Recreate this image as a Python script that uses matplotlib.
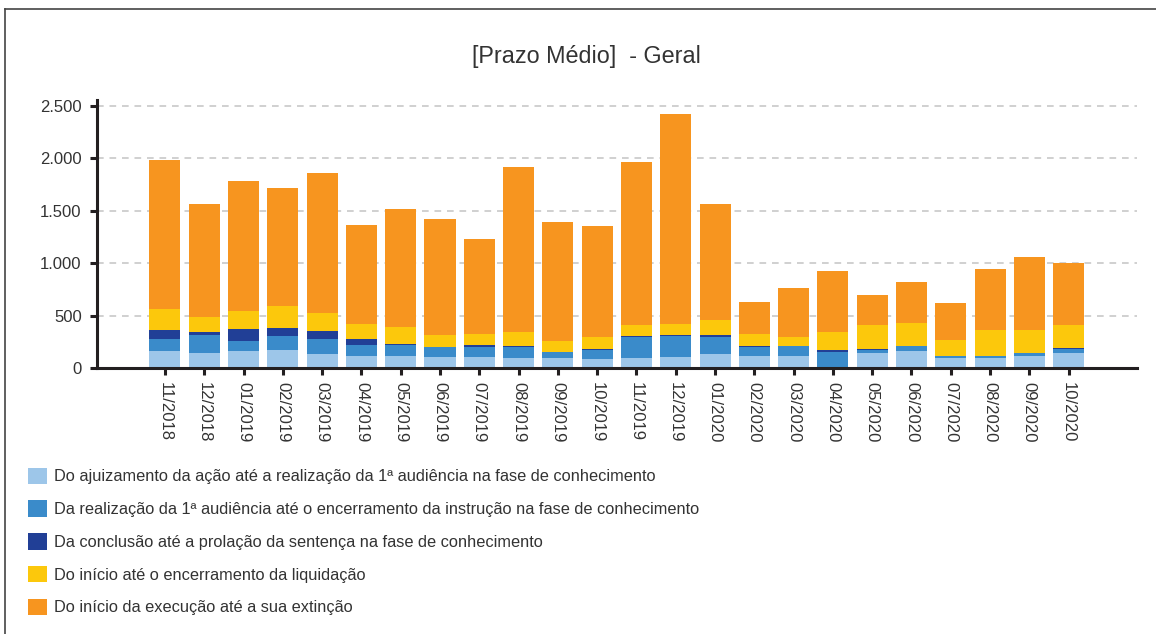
import matplotlib
matplotlib.use("Agg")
import matplotlib.pyplot as plt
from matplotlib.lines import Line2D
from matplotlib.patches import Patch
from matplotlib.ticker import FuncFormatter

plt.rcParams['font.family'] = ['Liberation Sans', 'DejaVu Sans']

months = ["11/2018", "12/2018", "01/2019", "02/2019", "03/2019", "04/2019",
          "05/2019", "06/2019", "07/2019", "08/2019", "09/2019", "10/2019",
          "11/2019", "12/2019", "01/2020", "02/2020", "03/2020", "04/2020",
          "05/2020", "06/2020", "07/2020", "08/2020", "09/2020", "10/2020"]

ajuizamento = [159, 140, 159, 169, 130, 111, 111, 102, 102, 92, 92, 83,
               92, 102, 130, 111, 111, 6, 140, 159, 92, 92, 111, 140]
instrucao = [115, 172, 95, 133, 144, 105, 105, 95, 95, 105, 58, 86,
             200, 200, 162, 86, 96, 144, 29, 48, 19, 19, 29, 38]
sentenca = [85, 28, 115, 76, 76, 57, 10, 0, 19, 10, 0, 9,
            10, 10, 20, 10, 0, 19, 9, 0, 0, 0, 0, 10]
liquidacao = [201, 143, 172, 210, 172, 144, 162, 115, 105, 133, 104, 115,
              105, 105, 143, 114, 86, 171, 229, 219, 153, 248, 219, 219]
execucao = [1426, 1083, 1244, 1130, 1340, 948, 1130, 1111, 911, 1579, 1140, 1063,
            1560, 2008, 1111, 306, 467, 587, 286, 391, 353, 587, 701, 596]

labels = ["Do ajuizamento da ação até a realização da 1ª audiência na fase de conhecimento",
          "Da realização da 1ª audiência até o encerramento da instrução na fase de conhecimento",
          "Da conclusão até a prolação da sentença na fase de conhecimento",
          "Do início até o encerramento da liquidação",
          "Do início da execução até a sua extinção"]
colors = ["#9dc6e9", "#3a8bca", "#213f96", "#fcc80c", "#f7951f"]

series = [ajuizamento, instrucao, sentenca, liquidacao, execucao]

fig = plt.figure(figsize=(11.56, 6.34), dpi=100)
ax = fig.add_axes([97 / 1156, 1 - 368 / 634, 1040 / 1156, 268 / 634])

x = list(range(len(months)))
bottom = [0] * len(months)
for values, color in zip(series, colors):
    ax.bar(x, values, width=0.79, bottom=bottom, color=color, zorder=3)
    bottom = [b + v for b, v in zip(bottom, values)]

ax.set_xlim(-1.73, 24.74)
ax.set_ylim(0, 2557)
ax.set_yticks([0, 500, 1000, 1500, 2000, 2500])
ax.yaxis.set_major_formatter(FuncFormatter(lambda v, p: f"{int(v):,}".replace(",", ".")))
ax.set_xticks(x)
ax.set_xticklabels(months, rotation=-90)
ax.grid(axis="y", color="#c8c8c8", linestyle=(0, (4, 3.5)), linewidth=1.2, zorder=0)

for side in ["top", "right"]:
    ax.spines[side].set_visible(False)
for side in ["left", "bottom"]:
    ax.spines[side].set_color("#231f20")
    ax.spines[side].set_linewidth(2.2)
ax.spines["bottom"].set_zorder(4)
ax.tick_params(axis="both", colors="#231f20", labelcolor="#333333", labelsize=12,
               width=2.2, length=5)
ax.tick_params(axis="x", pad=5)
ax.tick_params(axis="y", pad=6)

fig.text(586 / 1156, 1 - 57 / 634, "[Prazo Médio]  - Geral", ha="center", va="center",
         fontsize=16.8, color="#333333")

handles = [Patch(facecolor=c, edgecolor="none") for c in colors]
fig.legend(handles, labels, loc="upper left", bbox_to_anchor=(13 / 1156, 1 - 453 / 634),
           frameon=False, fontsize=11.8, handlelength=1.15, handleheight=1.15,
           labelspacing=0.98, handletextpad=0.45, labelcolor="#333333")

# outer frame (top and left edges)
fig.add_artist(Line2D([5 / 1156, 1], [1 - 9 / 634, 1 - 9 / 634], color="#444444", linewidth=1.2))
fig.add_artist(Line2D([5 / 1156, 5 / 1156], [0, 1 - 9 / 634], color="#444444", linewidth=1.2))

fig.savefig("out.png", dpi=100)
